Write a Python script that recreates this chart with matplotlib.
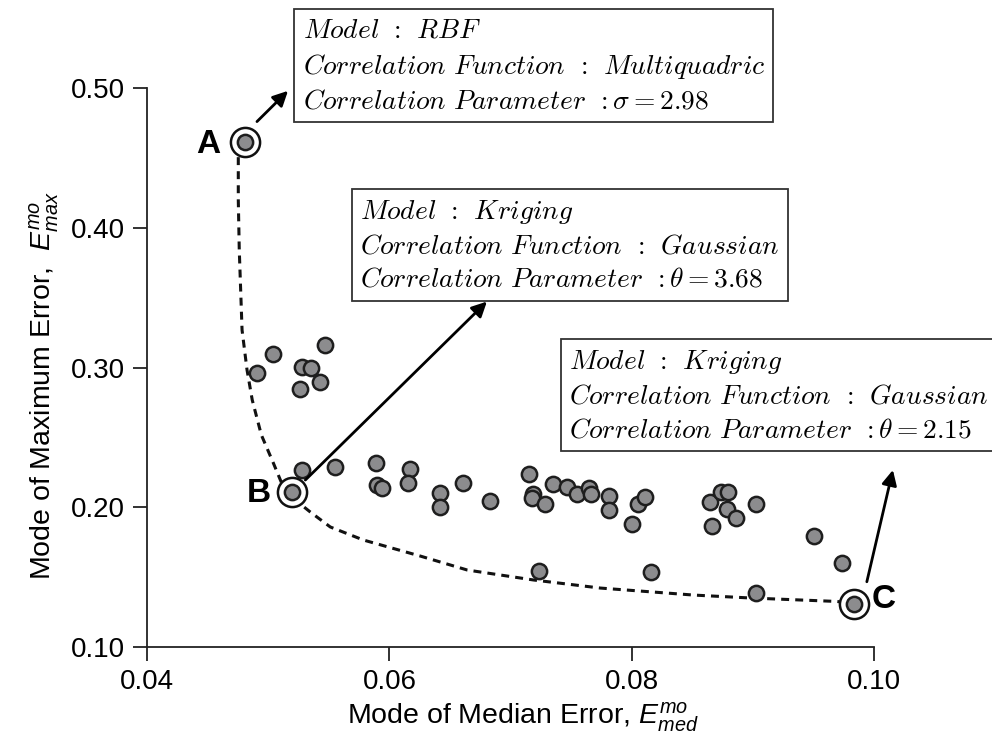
import matplotlib
matplotlib.use("Agg")
import matplotlib.pyplot as plt

plt.rcParams['font.family'] = ['Liberation Sans', 'DejaVu Sans']
plt.rcParams['mathtext.fontset'] = 'custom'
plt.rcParams['mathtext.rm'] = 'Liberation Sans'
plt.rcParams['mathtext.it'] = 'Liberation Sans:italic'
plt.rcParams['mathtext.bf'] = 'Liberation Sans:bold'

# candidate models (median error, max error)
med_err = [0.04907, 0.05039, 0.05278, 0.05353, 0.05429, 0.05264, 0.05471,
           0.05278, 0.05553, 0.05891, 0.05897, 0.05938, 0.06166, 0.06153,
           0.06413, 0.06413, 0.06606, 0.06831, 0.07151, 0.07188, 0.07175,
           0.07281, 0.07353, 0.07464, 0.07551, 0.07642, 0.07662, 0.07815,
           0.07807, 0.08000, 0.08050, 0.08110, 0.07230, 0.08161, 0.08646,
           0.08738, 0.08793, 0.08784, 0.08856, 0.08660, 0.09021, 0.09506,
           0.09732, 0.09025]
max_err = [0.2959, 0.3095, 0.3006, 0.2995, 0.2899, 0.2845, 0.3162,
           0.2267, 0.2291, 0.2319, 0.2160, 0.2136, 0.2272, 0.2172,
           0.2102, 0.2004, 0.2172, 0.2047, 0.2237, 0.2095, 0.2064,
           0.2020, 0.2169, 0.2147, 0.2092, 0.2136, 0.2092, 0.2084,
           0.1983, 0.1880, 0.2026, 0.2074, 0.1542, 0.1539, 0.2040,
           0.2112, 0.2106, 0.1986, 0.1925, 0.1868, 0.2020, 0.1797,
           0.1603, 0.1384]

# highlighted pareto models
pareto_names = ['A', 'B', 'C']
pareto_med = [0.04805, 0.05198, 0.09833]
pareto_max = [0.4617, 0.2110, 0.1308]

# pareto front (dashed curve)
front_med = [0.04780, 0.04753, 0.04753, 0.04761, 0.04784, 0.04825, 0.04868,
             0.04943, 0.05042, 0.05124, 0.05223, 0.05347, 0.05512, 0.05784,
             0.06254, 0.06642, 0.07186, 0.07739, 0.08506, 0.08976, 0.09693,
             0.09833]
front_max = [0.4600, 0.4558, 0.4200, 0.3842, 0.3269, 0.2983, 0.2768,
             0.2518, 0.2317, 0.2145, 0.2052, 0.1966, 0.1859, 0.1766,
             0.1651, 0.1551, 0.1480, 0.1422, 0.1372, 0.1351, 0.1326,
             0.1310]

box_texts = [
    [r'$Model\;\,:\;\,RBF$',
     r'$Correlation\ Function\;\,:\;\,Multiquadric$',
     r'$Correlation\ Parameter\;\,:\sigma = 2.98$'],
    [r'$Model\;\,:\;\,Kriging$',
     r'$Correlation\ Function\;\,:\;\,Gaussian$',
     r'$Correlation\ Parameter\;\,:\theta = 3.68$'],
    [r'$Model\;\,:\;\,Kriging$',
     r'$Correlation\ Function\;\,:\;\,Gaussian$',
     r'$Correlation\ Parameter\;\,:\theta = 2.15$'],
]
box_pos = [(0.05283, 0.5505), (0.05759, 0.4212), (0.07485, 0.3138)]
arrow_tail = [(0.04907, 0.4760), (0.05306, 0.2195), (0.09938, 0.1467)]
arrow_head = [(0.05163, 0.4980), (0.06804, 0.3472), (0.10153, 0.2267)]
label_pos = [(0.04505, 0.4595), (0.04925, 0.2100), (0.10080, 0.1340)]

fig = plt.figure(figsize=(9.92, 7.5), dpi=100)
ax = fig.add_axes([0.1482, 0.1373, 0.7332, 0.7453])

ax.plot(front_med, front_max, color='#111111', lw=2.2,
        dashes=(2.6, 2.0), zorder=1, clip_on=False)
ax.plot(med_err, max_err, 'o', ms=11, mfc='#8c8c8e', mec='#1e1e1e',
        mew=1.8, zorder=2, clip_on=False)
ax.plot(pareto_med, pareto_max, 'o', ms=21, mfc='white', mec='#111111',
        mew=1.8, zorder=3, clip_on=False)
ax.plot(pareto_med, pareto_max, 'o', ms=11, mfc='#8c8c8e', mec='#1e1e1e',
        mew=1.8, zorder=4, clip_on=False)

for name, (lx, ly) in zip(pareto_names, label_pos):
    ax.text(lx, ly, name, fontsize=24, fontweight='bold',
            ha='center', va='center')

for tail, head in zip(arrow_tail, arrow_head):
    ax.annotate('', xy=head, xytext=tail, annotation_clip=False,
                arrowprops=dict(arrowstyle='-|>,head_length=0.9,head_width=0.45',
                                color='black', lw=2, shrinkA=0, shrinkB=0))

for lines, (bx, by) in zip(box_texts, box_pos):
    ax.text(bx, by, '\n'.join(lines), fontsize=19.8, math_fontfamily='cm',
            ha='left', va='top', linespacing=1.37, clip_on=False, zorder=5,
            bbox=dict(boxstyle='square,pad=0.3', fc='white',
                      ec='#333333', lw=1.3))

ax.set_xlim(0.04, 0.10)
ax.set_ylim(0.10, 0.50)
ax.set_xticks([0.04, 0.06, 0.08, 0.10])
ax.set_xticklabels(['0.04', '0.06', '0.08', '0.10'])
ax.set_yticks([0.10, 0.20, 0.30, 0.40, 0.50])
ax.set_yticklabels(['0.10', '0.20', '0.30', '0.40', '0.50'])
ax.tick_params(labelsize=20, length=10, width=1.3, pad=6, color='#222222')
for side in ['top', 'right']:
    ax.spines[side].set_visible(False)
for side in ['left', 'bottom']:
    ax.spines[side].set_linewidth(1.3)
    ax.spines[side].set_color('#222222')

ax.set_xlabel('Mode of Median Error, $E^{mo}_{med}$', fontsize=20.5)
ax.set_ylabel('Mode of Maximum Error,  $E^{mo}_{max}$', fontsize=20.5)
ax.xaxis.set_label_coords(0.517, -0.095)
ax.yaxis.set_label_coords(-0.118, 0.467)

fig.savefig('out.png', dpi=100)
